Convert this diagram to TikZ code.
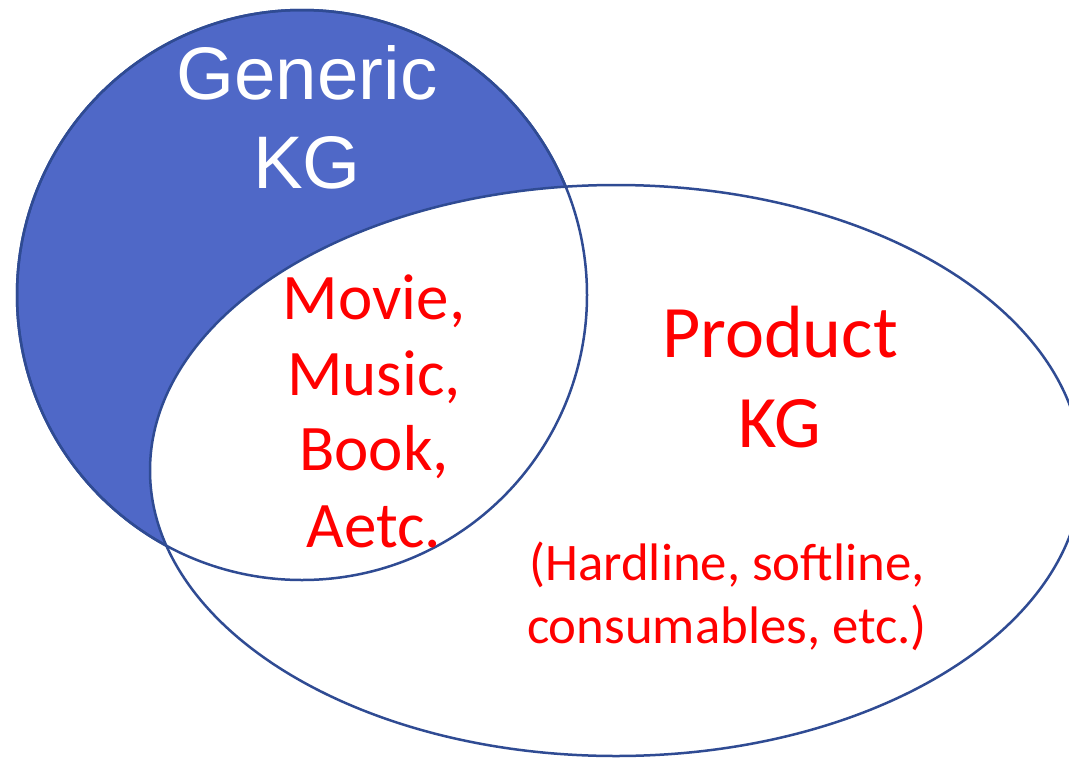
\documentclass[tikz,border=0pt]{standalone}
\usepackage{fontspec}
\setmainfont{Liberation Sans}
\newfontfamily\calib{Carlito}
\definecolor{kgfill}{RGB}{79,104,199}
\definecolor{kgline}{RGB}{47,75,147}
\definecolor{kgred}{RGB}{255,0,0}
\begin{document}
\begin{tikzpicture}[x=1pt,y=-1pt,
  outl/.style={draw=kgline,line width=2.5pt},
  gtext/.style={anchor=base,text=white,font=\fontsize{74.5}{88}\selectfont,inner sep=0pt},
  rbig/.style={anchor=base,text=kgred,font=\calib\fontsize{74}{90}\selectfont,inner sep=0pt},
  rmid/.style={anchor=base,text=kgred,font=\calib\fontsize{65}{76}\selectfont,inner sep=0pt},
  rsmall/.style={anchor=base,text=kgred,font=\calib\fontsize{52.8}{63}\selectfont,inner sep=0pt}]
\useasboundingbox (0,0) rectangle (1069,758);
\begin{scope}
\clip (0,0) rectangle (1069,758);
% generic KG circle
\fill[kgfill] (302,295) ellipse [x radius=285, y radius=285];
\draw[outl] (302,295) ellipse [x radius=285, y radius=285];
% product KG ellipse
\filldraw[fill=white,outl] (616,470.5) ellipse [x radius=466, y radius=285.5];
% generic outline on top
\draw[outl] (302,295) ellipse [x radius=285, y radius=285];
\end{scope}
\node[gtext] (g1) at (307,99) {Generic};
\node[gtext] (g2) at (307,188) {KG};
\node[rmid] (m1) at (374,319) {Movie,};
\node[rmid] (m2) at (374,395) {Music,};
\node[rmid] (m3) at (374,470) {Book,};
\node[rmid] (m4) at (374,547) {Aetc.};
\node[rbig] (p1) at (780,357) {Product};
\node[rbig] (p2) at (780,447) {KG};
\node[rsmall] (h1) at (727,580) {(Hardline, softline,};
\node[rsmall] (h2) at (727,643) {consumables, etc.)};
\end{tikzpicture}
\end{document}
